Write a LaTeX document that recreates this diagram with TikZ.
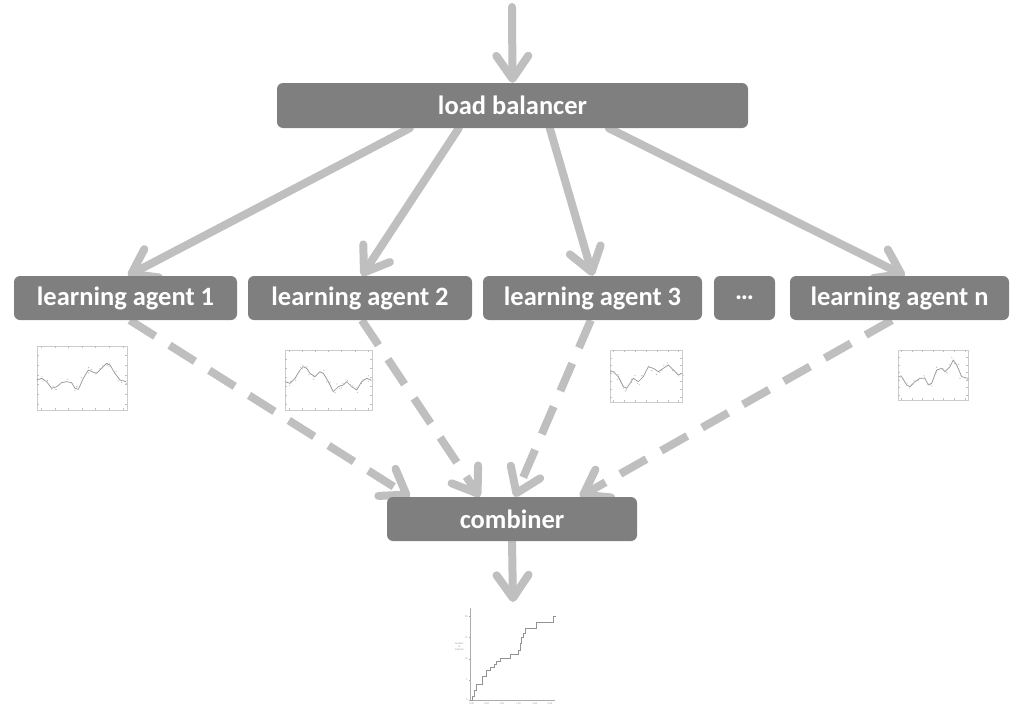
\documentclass[tikz,border=0pt]{standalone}
\usepackage{fontspec}
\setmainfont{Carlito}
\usetikzlibrary{arrows.meta,calc}
\pgfdeclarelayer{bg}
\pgfsetlayers{bg,main}
\definecolor{boxgray}{HTML}{7F7F7F}
\definecolor{arrgray}{HTML}{BFBFBF}
\newcommand\wavyplot[3]{%
  \begin{scope}[shift={#1}, x={(0.3333pt,0)}, y={(0,-0.3333pt)}]
    \draw[curve] (#2) \foreach \px/\py in {#3}{ -- (\px,\py)};
    \foreach \px/\py in {#3}{
      \fill[dotc] ([shift={({6*rand},{9*rand})}]\px,\py) circle[radius=0.6pt];
      \fill[dotc] ([shift={({6*rand},{9*rand})}]\px,\py) circle[radius=0.6pt];
    }
  \end{scope}}
\newcommand\frameticks[1]{%
  \foreach \f in {0.05,0.2,0.35,0.5,0.65,0.8,0.95}{
    \draw[tickc] ($(#1.south west)!\f!(#1.south east)$) -- ++(0,-2);
    \draw[tickc] ($(#1.north west)!\f!(#1.north east)$) -- ++(0,2);
  }
  \foreach \f in {0.1,0.25,0.4,0.55,0.7,0.85}{
    \draw[tickc] ($(#1.south west)!\f!(#1.north west)$) -- ++(2,0);
    \draw[tickc] ($(#1.south east)!\f!(#1.north east)$) -- ++(-2,0);
  }}
\begin{document}
\begin{tikzpicture}[x=1pt,y=-1pt,
  box/.style={fill=boxgray, rounded corners=6pt, inner sep=0pt, text=white,
    font=\fontsize{26.5}{30}\selectfont\bfseries, minimum height=44pt},
  sarrow/.style={draw=arrgray, line width=8pt, line cap=round,
    -{Straight Barb[length=23pt,width=32pt,round]}},
  darrow/.style={draw=arrgray, line width=8pt, line cap=butt,
    dash pattern=on 30pt off 17pt,
    -{Straight Barb[length=23pt,width=32pt,round]}},
  frame/.style={draw=gray!40, line width=0.4pt, inner sep=0pt},
  tickc/.style={draw=gray!50, line width=0.3pt},
  curve/.style={draw=gray!85, line width=0.7pt, line join=round},
  dotc/.style={fill=gray!55},
  axisc/.style={draw=gray!65, line width=0.5pt},
  stairs/.style={draw=gray!85, line width=0.7pt},
  tiny/.style={font=\fontsize{2.6}{3}\selectfont, text=gray!80, inner sep=0.3pt, align=center}
]
\useasboundingbox (0,0) rectangle (1010,712);
\pgfmathsetseed{7}

% nodes
\coordinate (in) at (512,7);
\node[box, minimum width=471pt, minimum height=45pt] (lb) at (512.5,105.5) {load balancer};
\node[box, minimum width=223pt] (a1) at (125.5,298) {learning agent 1};
\node[box, minimum width=224pt] (a2) at (360,298) {learning agent 2};
\node[box, minimum width=219pt] (a3) at (592.5,298) {learning agent 3};
\node[box, minimum width=61pt] (dots) at (744.5,298) {\dots};
\node[box, minimum width=219pt] (an) at (899.5,298) {learning agent n};
\node[box, minimum width=250pt] (cb) at (512,519) {combiner};
\coordinate (out) at (513,602);

% arrows (behind boxes)
\begin{pgfonlayer}{bg}
\draw[sarrow] (in) -- (lb.north);
\draw[sarrow] ([xshift=133pt]lb.south west) -- ([xshift=114pt]a1.north west);
\draw[sarrow] ([xshift=182pt]lb.south west) -- ([xshift=114pt]a2.north west);
\draw[sarrow] ([xshift=273pt]lb.south west) -- ([xshift=110pt]a3.north west);
\draw[sarrow] ([xshift=332pt]lb.south west) -- ([xshift=115pt]an.north west);
\draw[darrow] ([xshift=116pt]a1.south west) -- ([xshift=23pt]cb.north west);
\draw[darrow] ([xshift=114pt]a2.south west) -- ([xshift=93pt]cb.north west);
\draw[darrow] ([xshift=108pt]a3.south west) -- ([xshift=128pt]cb.north west);
\draw[darrow] ([xshift=102pt]an.south west) -- ([xshift=193pt]cb.north west);
\draw[sarrow] (cb.south) -- (out);
\end{pgfonlayer}

% small plots
\node[frame, minimum width=90pt, minimum height=64pt] (p1) at (82,378) {};
\frameticks{p1}
\wavyplot{(20,340)}{50,120}{65/115,80/125,95/145,110/140,125/128,140/125,155/128,165/145,175/148,190/115,205/90,215/95,230/100,245/85,260/70,270/75,285/100,300/120,318/125}

\node[frame, minimum width=87pt, minimum height=60pt] (p2) at (328.5,380) {};
\frameticks{p2}
\wavyplot{(280,345)}{15,110}{30/115,45/100,60/75,70/65,80/70,90/85,105/95,120/80,130/85,145/110,160/140,175/125,190/120,200/110,215/125,230/135,245/110,260/100,273/105}

\node[frame, minimum width=72pt, minimum height=52pt] (p3) at (646,376) {};
\frameticks{p3}
\wavyplot{(600,340)}{30,95}{40/95,55/110,70/140,80/145,90/130,100/115,115/125,130/110,145/80,160/85,175/95,190/85,205/75,220/90,235/105,245/100}

\node[frame, minimum width=70pt, minimum height=50pt] (p4) at (933,375) {};
\frameticks{p4}
\wavyplot{(890,345)}{25,95}{35/95,50/120,60/125,75/110,90/100,105/100,115/120,125/115,140/75,155/70,165/80,180/65,190/45,200/60,215/95,233/100}

% result step plot
\node[inner sep=0pt, minimum width=85pt, minimum height=92pt] (res) at (512.5,654) {};
\begin{scope}[shift={(440,580)}, x={(0.3333pt,0)}, y={(0,-0.3333pt)}]
  \draw[axisc] (90,85) -- (90,360) -- (345,360);
  \foreach \yy/\lab in {110/20,172/15,237/10,300/5,360/0}{
    \draw[axisc] (86,\yy) -- (90,\yy);
    \node[tiny, anchor=east] at (84,\yy) {\lab};
  }
  \foreach \xx/\lab in {95/0.00,140/0.50,185/1.00,235/1.50,285/2.00,330/2.50}{
    \draw[axisc] (\xx,360) -- (\xx,364);
    \node[tiny, anchor=north] at (\xx,366) {\lab};
  }
  \node[tiny] at (58,200) {Number\\of\\Subjects};
  \draw[stairs] (92,360) -- (98,360) -- (98,350) -- (103,350) -- (103,330) -- (110,330) -- (110,313) -- (128,313) -- (128,290) -- (138,290) -- (138,272) -- (150,272) -- (150,262) -- (162,262) -- (162,252) -- (170,252) -- (170,245) -- (180,245) -- (180,236) -- (210,236) -- (210,222) -- (236,222) -- (236,210) -- (240,210) -- (240,190) -- (244,190) -- (244,172) -- (250,172) -- (250,160) -- (256,160) -- (256,145) -- (290,145) -- (290,126) -- (340,126) -- (340,108) -- (348,108);
\end{scope}
\end{tikzpicture}
\end{document}
